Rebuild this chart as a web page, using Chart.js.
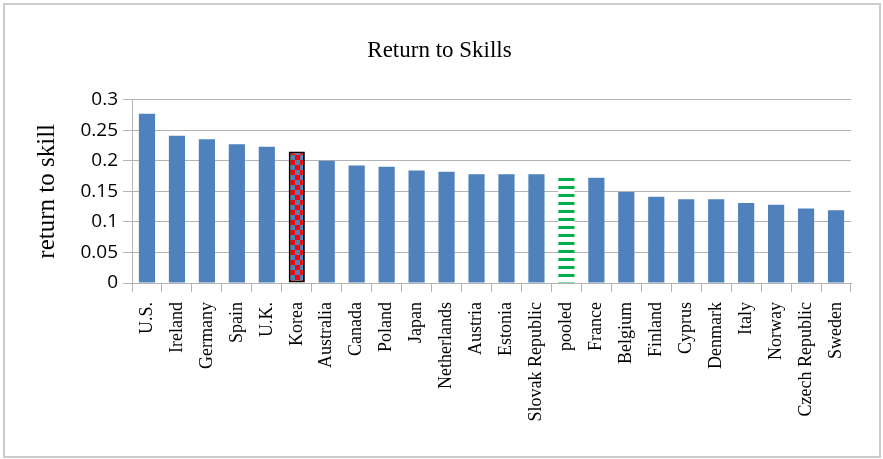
<!DOCTYPE html>
<html>
<head>
<meta charset="utf-8">
<script src="https://cdn.jsdelivr.net/npm/chart.js@4.4.1/dist/chart.umd.min.js"></script>
<style>
  html, body { margin: 0; padding: 0; background: #fff; }
  canvas { display: block; }
</style>
</head>
<body>
<canvas id="skills" width="883" height="459"></canvas>
<script>
// values
const countries = ['U.S.', 'Ireland', 'Germany', 'Spain', 'U.K.', 'Korea', 'Australia', 'Canada',
    'Poland', 'Japan', 'Netherlands', 'Austria', 'Estonia', 'Slovak Republic', 'pooled', 'France',
    'Belgium', 'Finland', 'Cyprus', 'Denmark', 'Italy', 'Norway', 'Czech Republic', 'Sweden'];
const returnToSkill = [0.277, 0.241, 0.235, 0.227, 0.223, 0.215, 0.200, 0.192,
    0.190, 0.184, 0.182, 0.178, 0.178, 0.178, 0.177, 0.172,
    0.149, 0.141, 0.137, 0.137, 0.131, 0.128, 0.122, 0.119];
const yTickValues = [0, 0.05, 0.1, 0.15, 0.2, 0.25, 0.3];
const yTickLabels = ['0', '0.05', '0.1', '0.15', '0.2', '0.25', '0.3'];

const BLUE = '#4f81bd';
const canvas = document.getElementById('skills');
const ctx = canvas.getContext('2d');

function makePattern(w, h, draw) {
    const c = document.createElement('canvas');
    c.width = w; c.height = h;
    draw(c.getContext('2d'));
    return ctx.createPattern(c, 'repeat');
}

// Korea: red / blue checkerboard
const checker = makePattern(10, 10, g => {
    g.fillStyle = BLUE; g.fillRect(0, 0, 10, 10);
    g.fillStyle = '#ff0000'; g.fillRect(0, 0, 5, 5); g.fillRect(5, 5, 5, 5);
});
// pooled: green horizontal dashes on white
const dashes = makePattern(8, 8, g => {
    g.fillStyle = '#ffffff'; g.fillRect(0, 0, 8, 8);
    g.fillStyle = '#00b050'; g.fillRect(0, 2, 8, 3);
});

const fills = countries.map(c => c === 'Korea' ? checker : c === 'pooled' ? dashes : BLUE);
const borders = countries.map(c => c === 'Korea' ? 2 : 0);

const framePlugin = {
    id: 'frame',
    beforeDraw(chart) {
        const g = chart.ctx;
        g.save();
        g.fillStyle = '#fff';
        g.fillRect(0, 0, chart.width, chart.height);
        g.strokeStyle = '#cccccc';
        g.lineWidth = 2;
        g.strokeRect(4, 4, 876, 453);
        g.restore();
    }
};

new Chart(ctx, {
    type: 'bar',
    data: {
        labels: countries,
        datasets: [{
            label: 'return to skill',
            data: returnToSkill,
            backgroundColor: fills,
            borderColor: '#000',
            borderWidth: borders,
            borderSkipped: false,
            barPercentage: 0.54,
            categoryPercentage: 1
        }]
    },
    options: {
        responsive: false,
        animation: false,
        devicePixelRatio: 1,
        layout: { padding: { left: 28, right: 32, top: 20, bottom: 10 } },
        plugins: {
            legend: { display: false },
            tooltip: { enabled: false },
            title: {
                display: true,
                text: 'Return to Skills',
                color: '#000',
                font: { family: 'Liberation Serif', size: 23, weight: 'normal' },
                padding: { top: 17, bottom: 35 }
            }
        },
        scales: {
            x: {
                grid: {
                    offset: true,
                    drawOnChartArea: false,
                    drawTicks: true,
                    tickLength: 9,
                    color: '#b4b4b4'
                },
                border: { color: '#b4b4b4' },
                ticks: {
                    autoSkip: false,
                    maxRotation: 90,
                    minRotation: 90,
                    padding: 10,
                    color: '#000',
                    font: { family: 'Liberation Serif', size: 18 }
                },
                afterFit(scale) { scale.height = 166; }
            },
            y: {
                min: 0,
                max: 0.3,
                afterBuildTicks(scale) {
                    scale.ticks = yTickValues.map(v => ({ value: v }));
                },
                ticks: {
                    padding: 5,
                    color: '#000',
                    font: { family: 'Open Sans', size: 19 },
                    callback: (v, i) => yTickLabels[i]
                },
                grid: { color: '#b4b4b4', tickLength: 9 },
                border: { color: '#b4b4b4' },
                title: {
                    display: true,
                    text: 'return to skill',
                    color: '#000',
                    font: { family: 'Liberation Serif', size: 25 }
                },
                afterFit(scale) { scale.width = 104; }
            }
        }
    },
    plugins: [framePlugin]
});
</script>
</body>
</html>
